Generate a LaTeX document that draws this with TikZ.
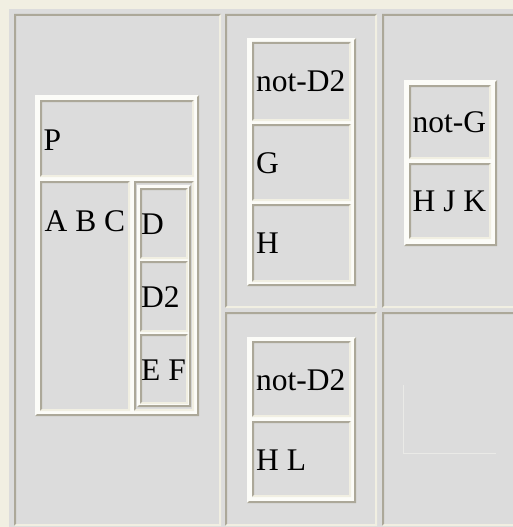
\documentclass[tikz,border=0pt]{standalone}
\usepackage{fontspec}
\setmainfont{Liberation Serif}
\definecolor{cellgray}{HTML}{DCDCDC}
\definecolor{shadowedge}{HTML}{ACA899}
\definecolor{lightedge}{HTML}{F1EFE2}
\definecolor{tablewhite}{HTML}{FCFCF8}
\definecolor{faintline}{HTML}{EAEAE7}
\tikzset{
  lbl/.style={anchor=base west, inner sep=0pt, text=black, font=\fontsize{31.5}{36}\selectfont},
  cellfill/.style={fill=cellgray},
  darkedge/.style={fill=shadowedge},
  litedge/.style={fill=lightedge},
  tabfill/.style={fill=tablewhite}
}
% inset cell: dark top/left, light bottom/right
\newcommand{\cellIn}[4]{%
  \path[cellfill] (#1,#2) rectangle (#3,#4);
  \path[darkedge] (#1,#4) -- (#1,#2) -- (#3,#2) -- (#3-2,#2+2) -- (#1+2,#2+2) -- (#1+2,#4-2) -- cycle;
  \path[litedge] (#3,#2) -- (#3,#4) -- (#1,#4) -- (#1+2,#4-2) -- (#3-2,#4-2) -- (#3-2,#2+2) -- cycle;
}
% outset nested table: light body, dark bottom/right
\newcommand{\tabOut}[4]{%
  \path[tabfill] (#1,#2) rectangle (#3,#4);
  \path[darkedge] (#3,#2) -- (#3,#4) -- (#1,#4) -- (#1+2,#4-2) -- (#3-2,#4-2) -- (#3-2,#2+2) -- cycle;
}
\begin{document}
\begin{tikzpicture}[x=1pt,y=-1pt]
\useasboundingbox (0,0) rectangle (513,527);
\clip (0,0) rectangle (513,527);
% outer background and outer table border
\path[cellfill] (0,0) rectangle (513,527);
\path[litedge] (0,0) rectangle (513,9);
\path[litedge] (0,0) rectangle (9,527);
% outer cells
\cellIn{14}{14}{221}{526}
\cellIn{225}{14}{377}{308}
\cellIn{382}{14}{518}{308}
\cellIn{225}{312}{377}{526}
\cellIn{382}{312}{518}{526}
% left nested table
\tabOut{35}{95}{199}{416}
\cellIn{40}{100}{194}{177}
\cellIn{40}{181}{130}{411}
\cellIn{134}{181}{194}{411}
\tabOut{137}{185}{191}{407}
\cellIn{140}{188}{188}{259}
\cellIn{140}{261}{188}{332}
\cellIn{140}{334}{188}{404}
% top middle nested table
\tabOut{247}{38}{356}{286}
\cellIn{252}{42}{351}{121}
\cellIn{252}{124}{351}{201}
\cellIn{252}{204}{351}{282}
% top right nested table
\tabOut{404}{80}{497}{246}
\cellIn{409}{85}{491}{159}
\cellIn{409}{163}{491}{239}
% bottom middle nested table
\tabOut{247}{337}{356}{503}
\cellIn{252}{341}{351}{417}
\cellIn{252}{421}{351}{497}
% faint empty table in bottom right cell
\draw[faintline, line width=1pt] (403,385) -- (403,453.5) -- (496,453.5);
% labels
\node[lbl] (p) at (43.5,150) {P};
\node[lbl] (abc) at (44.5,231) {A B C};
\node[lbl] (d) at (141,234) {D};
\node[lbl] (d2) at (141,307) {D2};
\node[lbl] (ef) at (141,380) {E F};
\node[lbl] (notd2a) at (256,91.5) {not-D2};
\node[lbl] (g) at (256,173) {G};
\node[lbl] (h) at (256,253.5) {H};
\node[lbl] (notg) at (412.5,132.5) {not-G};
\node[lbl] (hjk) at (412.5,211.5) {H J K};
\node[lbl] (notd2b) at (256,390) {not-D2};
\node[lbl] (hl) at (256,470) {H L};
\end{tikzpicture}
\end{document}
